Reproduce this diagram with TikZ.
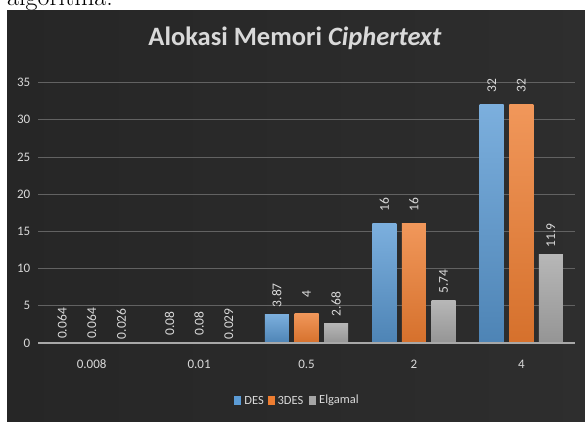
\documentclass[tikz,border=0pt]{standalone}
\usepackage{fontspec}
\newfontfamily\chartfont{Carlito}
\usetikzlibrary{positioning}
\definecolor{bgdark}{HTML}{262626}
\definecolor{bglight}{HTML}{4D4D4D}
\definecolor{gridgray}{HTML}{626262}
\definecolor{axisgray}{HTML}{A8A8A8}
\definecolor{txtgray}{HTML}{D9D9D9}
\definecolor{desblue}{HTML}{5B9BD5}
\definecolor{tdesorange}{HTML}{ED7D31}
\definecolor{elgray}{HTML}{A5A5A5}
\tikzset{>=latex}

\begin{document}
\begin{tikzpicture}[x=1pt, y=-1pt, line join=round,
    gridline/.style={gridgray, line width=0.8pt},
    ylab/.style={anchor=east, inner sep=0pt, text=txtgray, font=\chartfont\fontsize{13}{13}\selectfont},
    catlab/.style={inner sep=0pt, text=txtgray, font=\chartfont\fontsize{13}{13}\selectfont},
    vlab/.style={yshift=19pt, rotate=90, inner sep=0pt, text=txtgray, font=\chartfont\fontsize{13.5}{13.5}\selectfont},
    desbar/.style={top color=desblue!80!white, bottom color=desblue!85!black},
    tdesbar/.style={top color=tdesorange!80!white, bottom color=tdesorange!90!black},
    elbar/.style={top color=elgray!80!white, bottom color=elgray!90!black},
    legbox/.style={minimum width=7pt, minimum height=9pt, inner sep=0pt},
    legtext/.style={inner sep=0pt, text=txtgray, font=\chartfont\fontsize{12.5}{12.5}\selectfont}]
    \useasboundingbox (0,0) rectangle (585,422);
    % page text above the chart, cut by the page edge
    \node[anchor=base west, inner sep=0pt, font=\fontsize{26}{26}\selectfont] (pagetext) at (7,6) {algoritma.};
    \fill[white] (0,11) rectangle (585,422);
    \shade[left color=bgdark, middle color=bglight, right color=bgdark!80!bglight] (7,11) rectangle (585,422);
    \node[text=txtgray, font=\chartfont\bfseries\fontsize{26.5}{26.5}\selectfont] (title) at (295,38) {Alokasi Memori \textit{Ciphertext}};

    \begin{scope}[yshift=-343pt, y=7.443pt]
    \draw[gridline] (38,5) -- (575,5);
    \draw[gridline] (38,10) -- (575,10);
    \draw[gridline] (38,15) -- (575,15);
    \draw[gridline] (38,20) -- (575,20);
    \draw[gridline] (38,25) -- (575,25);
    \draw[gridline] (38,30) -- (575,30);
    \draw[gridline] (38,35) -- (575,35);
    \node[ylab] (y0) at (30.5,0) {0};
    \node[ylab] (y5) at (30.5,5) {5};
    \node[ylab] (y10) at (30.5,10) {10};
    \node[ylab] (y15) at (30.5,15) {15};
    \node[ylab] (y20) at (30.5,20) {20};
    \node[ylab] (y25) at (30.5,25) {25};
    \node[ylab] (y30) at (30.5,30) {30};
    \node[ylab] (y35) at (30.5,35) {35};

    % bars
    \shade[desbar] (50.1,0) rectangle (74.1,0.064);
    \shade[tdesbar] (79.7,0) rectangle (103.7,0.064);
    \shade[elbar] (109.3,0) rectangle (133.3,0.026);
    \shade[desbar] (157.5,0) rectangle (181.5,0.08);
    \shade[tdesbar] (187.1,0) rectangle (211.1,0.08);
    \shade[elbar] (216.7,0) rectangle (240.7,0.029);
    \shade[desbar] (264.9,0) rectangle (288.9,3.87);
    \shade[tdesbar] (294.5,0) rectangle (318.5,4);
    \shade[elbar] (324.1,0) rectangle (348.1,2.68);
    \shade[desbar] (372.3,0) rectangle (396.3,16);
    \shade[tdesbar] (401.9,0) rectangle (425.9,16);
    \shade[elbar] (431.5,0) rectangle (455.5,5.74);
    \shade[desbar] (479.7,0) rectangle (503.7,32);
    \shade[tdesbar] (509.3,0) rectangle (533.3,32);
    \shade[elbar] (538.9,0) rectangle (562.9,11.9);
    \draw[axisgray, line width=1.6pt] (38,0) -- (575,0);

    % value labels
    \node[vlab] (v11) at (62.1,0.064) {0.064};
    \node[vlab] (v12) at (91.7,0.064) {0.064};
    \node[vlab] (v13) at (121.3,0.026) {0.026};
    \node[vlab] (v21) at (169.5,0.08) {0.08};
    \node[vlab] (v22) at (199.1,0.08) {0.08};
    \node[vlab] (v23) at (228.7,0.029) {0.029};
    \node[vlab] (v31) at (276.9,3.87) {3.87};
    \node[vlab] (v32) at (306.5,4) {4};
    \node[vlab] (v33) at (336.1,2.68) {2.68};
    \node[vlab] (v41) at (384.3,16) {16};
    \node[vlab] (v42) at (413.9,16) {16};
    \node[vlab] (v43) at (443.5,5.74) {5.74};
    \node[vlab] (v51) at (491.7,32) {32};
    \node[vlab] (v52) at (521.3,32) {32};
    \node[vlab] (v53) at (550.9,11.9) {11.9};
    \end{scope}

    \node[catlab] (c1) at (91.7,364) {0.008};
    \node[catlab] (c2) at (199.1,364) {0.01};
    \node[catlab] (c3) at (306.5,364) {0.5};
    \node[catlab] (c4) at (413.9,364) {2};
    \node[catlab] (c5) at (521.3,364) {4};

    % legend
    \node[legbox, fill=desblue] (kdes) at (237.5,400) {};
    \node[legtext, right=3pt of kdes] (tdes) {DES};
    \node[legbox, fill=tdesorange, right=4pt of tdes] (k3des) {};
    \node[legtext, right=2pt of k3des] (t3des) {3DES};
    \node[legbox, fill=elgray, right=5pt of t3des] (kel) {};
    \node[legtext, right=3pt of kel] (tel) {Elgamal};
\end{tikzpicture}
\end{document}
